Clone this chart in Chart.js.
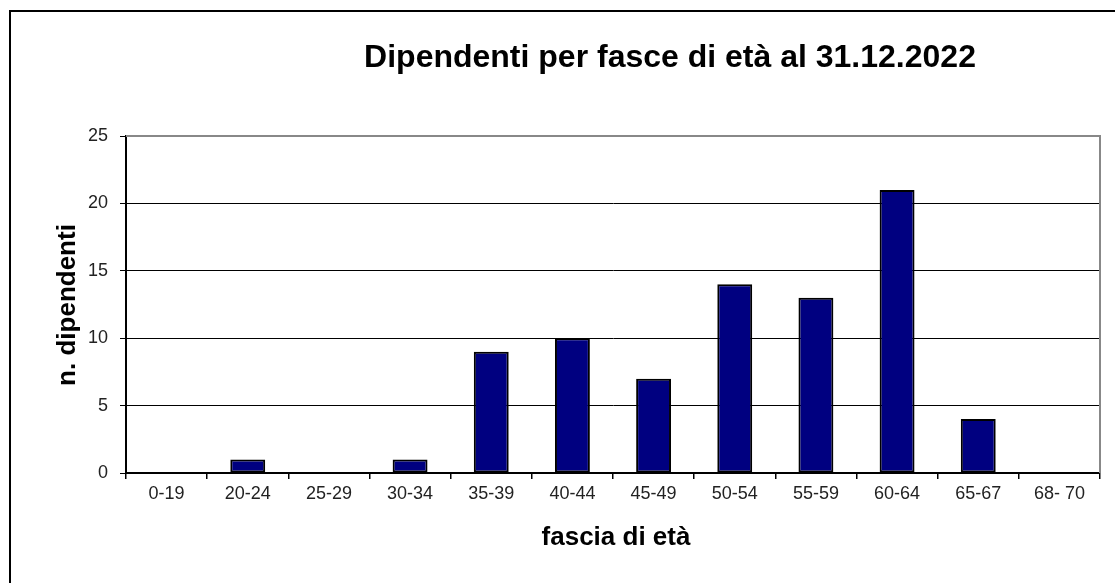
<!DOCTYPE html>
<html><head><meta charset="utf-8">
<script src="https://cdn.jsdelivr.net/npm/chart.js@4.4.0/dist/chart.umd.min.js"></script>
<style>html,body{margin:0;padding:0;background:#fff;}#wrap{width:1115px;height:583px;position:relative;}</style>
</head><body><div id="wrap"><canvas id="c" width="1115" height="583"></canvas></div>
<script>
const categories = ["0-19","20-24","25-29","30-34","35-39","40-44","45-49","50-54","55-59","60-64","65-67","68- 70"];
const dipendenti = [0,1,0,1,9,10,7,14,13,21,4,0];
const yTicks = [0,5,10,15,20,25];
const chartTitle = "Dipendenti per fasce di età al 31.12.2022";
const xTitle = "fascia di età";
const yTitle = "n. dipendenti";
const FONT = "'Liberation Sans', Arial, sans-serif";

const decor = {
  id: 'decor',
  beforeDraw(chart) {
    const ctx = chart.ctx;
    ctx.save();
    ctx.fillStyle = '#fff';
    ctx.fillRect(0, 0, chart.width, chart.height);
    ctx.strokeStyle = '#000';
    ctx.lineWidth = 2;
    ctx.beginPath();
    ctx.moveTo(10, 583);
    ctx.lineTo(10, 11);
    ctx.lineTo(1115, 11);
    ctx.stroke();
    ctx.restore();
  },
  afterDraw(chart) {
    const ctx = chart.ctx;
    const a = chart.chartArea;
    ctx.save();
    ctx.strokeStyle = '#888';
    ctx.lineWidth = 2;
    ctx.beginPath();
    ctx.moveTo(a.left, a.top);
    ctx.lineTo(a.right, a.top);
    ctx.lineTo(a.right, a.bottom);
    ctx.stroke();
    ctx.fillStyle = '#000';
    ctx.textAlign = 'center';
    ctx.textBaseline = 'middle';
    ctx.font = "bold 32px " + FONT;
    ctx.fillText(chartTitle, 670, 58);
    ctx.font = "bold 26px " + FONT;
    ctx.fillText(xTitle, 616, 538);
    ctx.translate(68, 305);
    ctx.rotate(-Math.PI / 2);
    ctx.fillText(yTitle, 0, 0);
    ctx.restore();
  }
};

new Chart(document.getElementById('c'), {
  type: 'bar',
  data: {
    labels: categories,
    datasets: [{
      data: dipendenti,
      backgroundColor: '#000080',
      borderColor: '#000',
      borderWidth: 2,
      borderSkipped: false,
      categoryPercentage: 1,
      barPercentage: 0.43
    }]
  },
  options: {
    responsive: false,
    animation: false,
    devicePixelRatio: 1,
    layout: { padding: { left: 0, right: 15, top: 136, bottom: 0 } },
    plugins: { legend: { display: false }, title: { display: false }, tooltip: { enabled: false } },
    scales: {
      x: {
        offset: true,
        grid: { offset: true, drawOnChartArea: false, drawTicks: true, tickLength: 6, color: '#000', lineWidth: 1.5 },
        border: { color: '#000', width: 2 },
        ticks: { color: '#222', font: { family: FONT, size: 18 }, padding: 4, maxRotation: 0, autoSkip: false },
        afterFit(s) { s.height = 110; }
      },
      y: {
        min: 0, max: 25,
        afterBuildTicks(s) { s.ticks = yTicks.map(v => ({ value: v })); },
        grid: {
          color: (c) => c.tick && c.tick.value === 25 ? '#888' : '#000',
          lineWidth: 1,
          drawTicks: true, tickLength: 6,
          tickColor: '#000'
        },
        border: { color: '#000', width: 2 },
        ticks: { color: '#222', font: { family: FONT, size: 18 }, padding: 12 },
        afterFit(s) { s.width = 126; }
      }
    }
  },
  plugins: [decor]
});
</script></body></html>
